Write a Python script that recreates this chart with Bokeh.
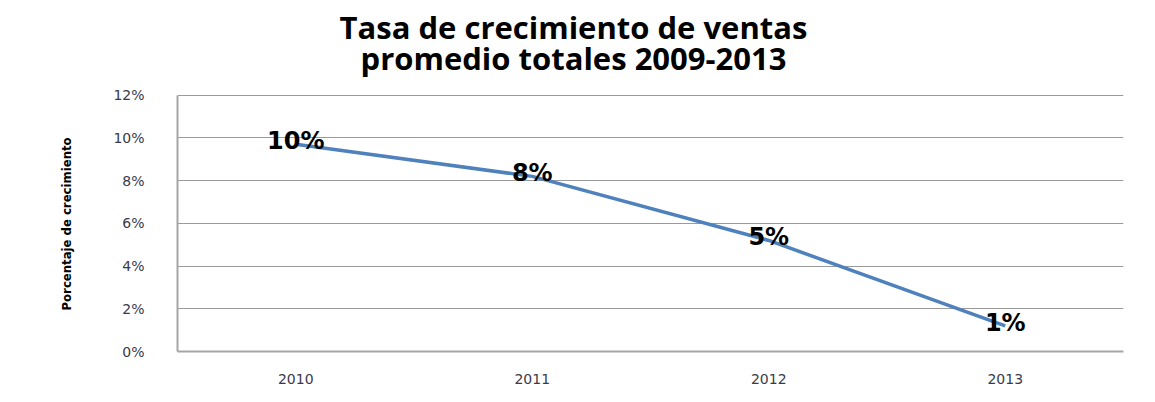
from bokeh.plotting import figure
from bokeh.models import ColumnDataSource, NumeralTickFormatter, FixedTicker, LabelSet, Range1d, Label, Title
from bokeh.core.properties import value
from bokeh.embed import file_html
from bokeh.resources import INLINE

years = ["2010", "2011", "2012", "2013"]
growth = [0.097, 0.082, 0.052, 0.012]
labels = ["10%", "8%", "5%", "1%"]
y_ticks = [0, 0.02, 0.04, 0.06, 0.08, 0.10, 0.12]
title_lines = ["Tasa de crecimiento de ventas", "promedio totales 2009-2013"]
y_label = "Porcentaje de crecimiento"

# frame spans the full height so the title can sit inside it; the axis is bounded to 0..12%
FRAME_H = 352
AXIS_H = 257
y_top = 0.12 * FRAME_H / AXIS_H

source = ColumnDataSource(data=dict(year=years, growth=growth, label=labels))

p = figure(width=1139, height=386, x_range=years, y_range=Range1d(0, y_top),
           output_backend="svg", toolbar_location=None,
           min_border_left=177, min_border_right=16, min_border_top=0, min_border_bottom=34)
p.x_range.range_padding = 0
p.title = None

for txt, ys in zip(title_lines, [325, 294]):
    p.add_layout(Label(x=396, y=ys, x_units="screen", y_units="screen", text=txt,
                       text_align="center", text_baseline="alphabetic",
                       text_font="Open Sans", text_font_size="31px",
                       text_font_style="bold", text_color="black"))

p.line(x="year", y="growth", source=source, line_color="#4F81BD", line_width=3.5)

lbl = LabelSet(x="year", y="growth", text="label", source=source,
               text_align="center", text_baseline="middle",
               text_font=value("DejaVu Sans"), text_font_style="bold",
               text_font_size="24px", text_color="black", x_offset=0, y_offset=3)
p.add_layout(lbl)

p.yaxis.ticker = FixedTicker(ticks=y_ticks)
p.yaxis.bounds = (0, 0.12)
p.yaxis.formatter = NumeralTickFormatter(format="0%")

for ax in (p.xaxis, p.yaxis):
    ax.major_label_text_font = "DejaVu Sans"
    ax.major_label_text_font_size = "14px"
    ax.major_label_text_color = "#3a3a4a"
    ax.major_tick_line_color = None
    ax.minor_tick_line_color = None
    ax.axis_line_color = "#a6a6a6"
    ax.axis_line_width = 2

p.yaxis.major_label_standoff = 27
p.xaxis.major_label_standoff = 16

# y-axis label as a side title so it can be centred on the 0..12% span, not the frame
p.add_layout(Title(text=y_label, align="left", offset=41, standoff=74,
                   text_font="DejaVu Sans Condensed", text_font_style="bold",
                   text_font_size="13px", text_color="black"), "left")

p.xgrid.grid_line_color = None
p.ygrid.grid_line_color = "#9a9a9a"
p.ygrid.grid_line_width = 1
p.outline_line_color = None
p.background_fill_color = "white"
p.border_fill_color = "white"

open("out.html", "w").write(file_html(p, INLINE))
